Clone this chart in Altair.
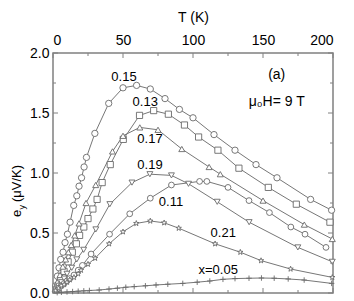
import altair as alt
import pandas as pd

# ---- data ----
T15 = [1.9, 3.1, 4.3, 5.5, 7.2, 8.6, 10.3, 12.2, 14.8, 17.0, 18.6, 20.4, 22.2, 23.9, 29.9, 39.8, 50.0, 59.7, 69.5, 80.0, 90.3, 100.0, 115.0, 130.0, 145.0, 160.0, 184.0, 199.0]
E15 = [0.06, 0.14, 0.21, 0.28, 0.34, 0.42, 0.49, 0.59, 0.73, 0.81, 0.89, 0.96, 1.05, 1.13, 1.33, 1.58, 1.71, 1.73, 1.70, 1.62, 1.53, 1.46, 1.32, 1.19, 1.07, 0.96, 0.78, 0.69]

T13 = [3.1, 5.5, 7.9, 10.8, 13.8, 16.7, 19.0, 22.0, 25.0, 28.5, 31.5, 35.1, 40.9, 50.2, 61.8, 71.9, 82.4, 93.9, 104.0, 117.8, 132.8, 153.8, 173.8, 197.8]
E13 = [0.04, 0.11, 0.18, 0.26, 0.34, 0.41, 0.48, 0.55, 0.62, 0.70, 0.78, 0.92, 1.07, 1.28, 1.48, 1.52, 1.49, 1.40, 1.30, 1.19, 1.04, 0.88, 0.74, 0.59]

T17 = [1.5, 3.0, 5.0, 7.0, 9.0, 11.0, 13.0, 15.5, 18.6, 23.6, 30.5, 42.5, 50.0, 62.0, 75.0, 92.0, 111.5, 119.5, 150.0, 179.5, 199.5]
E17 = [0.03, 0.09, 0.15, 0.22, 0.28, 0.34, 0.40, 0.48, 0.58, 0.75, 0.90, 1.18, 1.31, 1.38, 1.36, 1.20, 1.05, 0.99, 0.77, 0.57, 0.45]

T19 = [2.0, 4.0, 6.0, 8.0, 10.0, 13.4, 17.0, 21.9, 30.6, 40.6, 56.4, 69.2, 84.6, 96.8, 117.3, 140.1, 174.9, 199.5]
E19 = [0.03, 0.06, 0.09, 0.12, 0.16, 0.21, 0.28, 0.36, 0.53, 0.74, 0.92, 0.99, 0.98, 0.91, 0.76, 0.59, 0.38, 0.26]

T11 = [2.0, 4.0, 6.0, 8.0, 10.0, 12.0, 15.0, 18.0, 21.0, 27.2, 40.4, 54.8, 69.5, 84.6, 104.7, 109.9, 125.0, 140.0, 154.6, 169.9, 180.0, 195.0]
E11 = [0.02, 0.04, 0.06, 0.08, 0.10, 0.12, 0.15, 0.19, 0.23, 0.325, 0.49, 0.66, 0.79, 0.90, 0.93, 0.93, 0.88, 0.77, 0.67, 0.55, 0.49, 0.38]

T21 = [2.0, 4.0, 6.0, 8.0, 10.0, 12.0, 15.0, 18.0, 20.0, 25.0, 30.1, 40.1, 50.0, 59.5, 69.5, 79.4, 89.8, 115.8, 133.8, 148.6, 169.7, 199.5]
E21 = [0.02, 0.04, 0.06, 0.07, 0.09, 0.11, 0.13, 0.16, 0.19, 0.24, 0.29, 0.41, 0.51, 0.58, 0.60, 0.585, 0.54, 0.41, 0.34, 0.27, 0.20, 0.13]

T05 = [3, 6, 10, 14, 18, 22, 26, 33, 40, 46, 52, 58, 66, 73.6, 82, 92.7, 103, 112, 121.4, 130, 140, 148.9, 158, 168, 179.4, 199]
E05 = [0.003, 0.006, 0.009, 0.012, 0.015, 0.018, 0.021, 0.025, 0.033, 0.04, 0.048, 0.053, 0.06, 0.067, 0.073, 0.08, 0.09, 0.1, 0.114, 0.12, 0.123, 0.125, 0.123, 0.117, 0.108, 0.08]

SERIES = ["0.15", "0.13", "0.17", "0.19", "0.11", "0.21", "0.05"]
LABELS = ["0.15", "0.13", "0.17", "0.19", "0.11", "0.21", "x=0.05"]
LABEL_T = [50.7, 65.9, 69.3, 69.3, 84.3, 121.6, 118.0]
LABEL_E = [1.80, 1.59, 1.28, 1.07, 0.76, 0.50, 0.19]

X_TICKS = [0, 25, 50, 75, 100, 125, 150, 175, 200]
Y_TICKS = [0, 0.25, 0.5, 0.75, 1.0, 1.25, 1.5, 1.75, 2.0]

STAR = "M0,-1L0.235,-0.324L0.951,-0.309L0.38,0.124L0.588,0.809L0,0.4L-0.588,0.809L-0.38,0.124L-0.951,-0.309L-0.235,-0.324Z"
PLUS = "M-1,0L1,0M0,-1L0,1"
SHAPES = ["circle", "square", "triangle-up", "triangle-down", "circle", STAR, PLUS]
SIZES = [40, 30, 50, 50, 40, 55, 36]

rows = []
for name, ts, es in zip(SERIES, [T15, T13, T17, T19, T11, T21, T05],
                        [E15, E13, E17, E19, E11, E21, E05]):
    for t, e in zip(ts, es):
        rows.append({"series": name, "T": t, "e": e})
df = pd.DataFrame(rows)

lab = pd.DataFrame({"text": LABELS, "T": LABEL_T, "e": LABEL_E})

FONT = "Liberation Sans"
GRAY = "#777777"
FRAME = "#808080"

xs = alt.Scale(domain=[0, 200], nice=False, zero=False)
ys = alt.Scale(domain=[0, 2], nice=False)

x_enc = alt.X("T:Q", scale=xs,
              axis=alt.Axis(orient="top", values=[0, 50, 100, 150, 200], ticks=False,
                            domain=False, grid=False, labelFont=FONT, labelFontSize=14,
                            labelColor="black", labelPadding=6, title="T (K)",
                            titleFont=FONT, titleFontSize=14, titleFontWeight="normal",
                            titleColor="black", titlePadding=9))
y_enc = alt.Y("e:Q", scale=ys,
              axis=alt.Axis(values=[0, 0.5, 1.0, 1.5, 2.0], format=".1f", ticks=False,
                            domain=False, grid=False, labelFont=FONT, labelFontSize=14,
                            labelColor="black", labelPadding=4, title=None))

lines = alt.Chart(df).mark_line(color=GRAY, strokeWidth=1).encode(
    x=x_enc, y=y_enc, detail="series:N", order="T:Q")

points = alt.Chart(df).mark_point(filled=False, fill="white", fillOpacity=1,
                                  stroke="#6a6a6a", strokeWidth=0.9, opacity=1).encode(
    x="T:Q", y="e:Q",
    shape=alt.Shape("series:N", scale=alt.Scale(domain=SERIES, range=SHAPES), legend=None),
    size=alt.Size("series:N", scale=alt.Scale(domain=SERIES, range=SIZES), legend=None))

labels = alt.Chart(lab).mark_text(font=FONT, fontSize=13, color="black",
                                  align="center", baseline="middle").encode(
    x="T:Q", y="e:Q", text="text:N")

ann = pd.DataFrame({"text": ["(a)", "μ₀H= 9 T"], "T": [159.8, 159.8], "e": [1.82, 1.59]})
annot = alt.Chart(ann).mark_text(font=FONT, fontSize=14, color="black",
                                 align="center", baseline="middle").encode(
    x="T:Q", y="e:Q", text="text:N")

# y title pieces (rotated)
yt1 = alt.Chart(pd.DataFrame({"t": ["e"]})).mark_text(
    font=FONT, fontSize=13, angle=270, align="left", baseline="middle", color="black").encode(
    x=alt.value(-36), y=alt.value(164), text="t:N")
yt2 = alt.Chart(pd.DataFrame({"t": ["y"]})).mark_text(
    font=FONT, fontSize=9, angle=270, align="left", baseline="middle", color="black").encode(
    x=alt.value(-31), y=alt.value(156.5), text="t:N")
yt3 = alt.Chart(pd.DataFrame({"t": ["(μV/K)"]})).mark_text(
    font=FONT, fontSize=13, angle=270, align="left", baseline="middle", color="black").encode(
    x=alt.value(-36), y=alt.value(149), text="t:N")

# inward ticks
xt = pd.DataFrame({"v": X_TICKS, "major": [v % 50 == 0 for v in X_TICKS]})
yt = pd.DataFrame({"v": Y_TICKS, "major": [abs(v * 2 - round(v * 2)) < 1e-9 for v in Y_TICKS]})

tick_layers = []
for major, ln in [(True, 5), (False, 3)]:
    sx = xt[xt["major"] == major]
    sy = yt[yt["major"] == major]
    tick_layers.append(alt.Chart(sx).mark_rule(color=FRAME, strokeWidth=1).encode(
        x="v:Q", y=alt.value(0), y2=alt.value(ln)))
    tick_layers.append(alt.Chart(sx).mark_rule(color=FRAME, strokeWidth=1).encode(
        x="v:Q", y=alt.value(240), y2=alt.value(240 - ln)))
    tick_layers.append(alt.Chart(sy).mark_rule(color=FRAME, strokeWidth=1).encode(
        y="v:Q", x=alt.value(0), x2=alt.value(ln)))
    tick_layers.append(alt.Chart(sy).mark_rule(color=FRAME, strokeWidth=1).encode(
        y="v:Q", x=alt.value(280), x2=alt.value(280 - ln)))

chart = alt.layer(lines, points, labels, annot, yt1, yt2, yt3, *tick_layers).properties(
    width=280, height=240,
    autosize=alt.AutoSizeParams(type="none"),
    padding={"left": 45, "top": 45, "right": 13, "bottom": 8},
    background="white",
).configure_view(stroke=FRAME, strokeWidth=1.5)

chart.save("out.html", embed_options={"renderer": "svg", "actions": False})
